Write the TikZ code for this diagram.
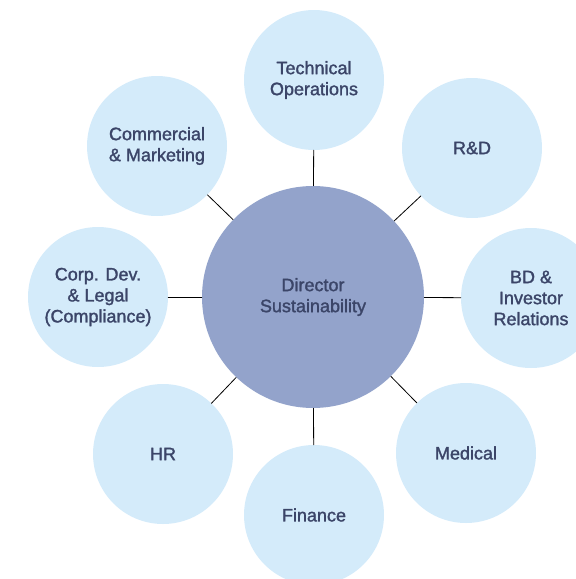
\documentclass[tikz,border=0pt]{standalone}
\usepackage{fontspec}
\setmainfont{Liberation Sans}
\newfontfamily\deptfont{Liberation Sans}[FakeBold=1.6]
\usetikzlibrary{positioning}
\definecolor{deptfill}{HTML}{D4EBFA}
\definecolor{hubfill}{HTML}{93A3CB}
\definecolor{labelink}{HTML}{3B4568}
\tikzset{orgchart/.style={
  x=1pt,y=-1pt,
  line join=round,line cap=round
},
dept/.style={circle,fill=deptfill,minimum size=140pt,inner sep=0pt,
  align=center,text=labelink,font=\deptfont\fontsize{18}{21}\selectfont},
hub/.style={dept,fill=hubfill,minimum size=222pt},
link/.style={draw=black,line width=0.8pt}}

\begin{document}
\begin{tikzpicture}[orgchart]
  \useasboundingbox (0,0) rectangle (576,579);
  \node[hub]  (director) at (313,297) {Director\\Sustainability};
  \node[dept] (techops)  at (314,80)  {Technical\\Operations};
  \node[dept] (rnd)      at (472,148) {R\&D};
  \node[dept] (bd)       at (531,298) {BD \&\\Investor\\Relations};
  \node[dept] (medical)  at (466,453) {Medical};
  \node[dept] (finance)  at (314,515) {Finance};
  \node[dept] (hr)       at (163,454) {HR};
  \node[dept] (corpdev)  at (98,297)  {Corp. Dev.\\\& Legal\\(Compliance)};
  \node[dept] (commerce) at (157,146) {Commercial\\\& Marketing};
  \foreach \d in {techops,rnd,bd,medical,finance,hr,corpdev,commerce}
    \draw[link] (director) -- (\d);
\end{tikzpicture}
\end{document}
